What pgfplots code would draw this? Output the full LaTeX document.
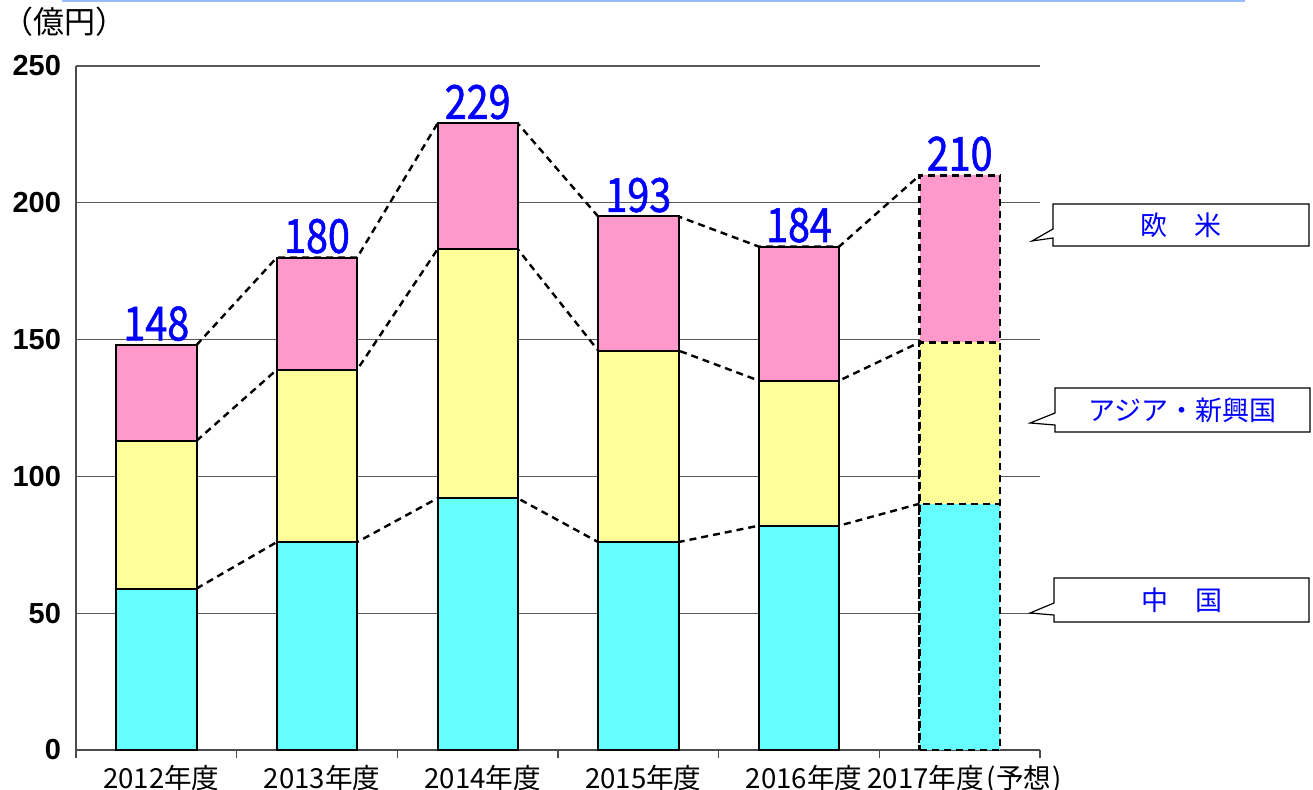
\documentclass[border=0pt]{standalone}
\usepackage{pgfplots}
\pgfplotsset{compat=1.18}
\usepackage{fontspec}
\newfontfamily\jp{Noto Sans CJK JP}
\newfontfamily\jpn[FakeStretch=0.84, FakeBold=1.2]{Noto Sans CJK JP}
\newfontfamily\arialf{Liberation Sans}
\definecolor{cpink}{RGB}{255,153,204}
\definecolor{cyel}{RGB}{255,255,153}
\definecolor{ccyan}{RGB}{102,255,255}
\definecolor{topblue}{RGB}{153,187,255}
\begin{document}
\begin{tikzpicture}
\path[use as bounding box] (0,0) rectangle (656.5pt,394.5pt);
\draw[topblue, line width=1pt] (31pt,394pt) -- (622.5pt,394pt);
\node[anchor=west, inner sep=0pt, font=\jp\fontsize{15.5}{15.5}\selectfont] at (1pt,383.5pt) {（億円）};
\begin{axis}[
 at={(38pt,19.5pt)}, anchor=south west,
 scale only axis, width=482pt, height=342pt,
 xmin=-0.5, xmax=5.5, ymin=0, ymax=250,
 axis x line*=bottom, axis y line*=left,
 axis line style={black!70, line width=0.8pt},
 ytick={0,50,100,150,200,250},
 ymajorgrids, grid style={black!65, line width=0.6pt},
 ytick style={draw=none},
 xtick={-0.5,0.5,1.5,2.5,3.5,4.5,5.5},
 x tick label as interval,
 xticklabels={2012年度,2013年度,2014年度,2015年度,2016年度,{2017年度\hspace{1.5pt}(予想\hspace{0.5pt})}},
 xtick align=inside, major tick length=4pt,
 xtick style={black!70, line width=0.8pt},
 xticklabel style={font=\jp\fontsize{13.8}{13.8}\selectfont, xshift=2.5pt},
 yticklabel style={font=\arialf\bfseries\fontsize{14.5}{14.5}\selectfont, xshift=-4pt},
 /pgf/number format/assume math mode=true,
 ybar, bar shift=0pt, bar width=0.5,
 clip=false,
 every node near coord/.append style={font=\jpn\fontsize{23.5}{23.5}\selectfont, text=blue, inner sep=0pt, yshift=1.5pt},
]
% dashed connectors
\addplot[sharp plot, black, line width=1.2pt, dash pattern=on 3.5pt off 2.5pt] coordinates {(0.25,148)(0.75,180)(1.25,180)(1.75,229)(2.25,229)(2.75,195)(3.25,195)(3.75,184)(4.25,184)(4.75,210)};
\addplot[sharp plot, black, line width=1.2pt, dash pattern=on 3.5pt off 2.5pt] coordinates {(0.25,113)(0.75,139)(1.25,139)(1.75,183)(2.25,183)(2.75,146)(3.25,146)(3.75,135)(4.25,135)(4.75,149)};
\addplot[sharp plot, black, line width=1.2pt, dash pattern=on 3.5pt off 2.5pt] coordinates {(0.25,59)(0.75,76)(1.25,76)(1.75,92)(2.25,92)(2.75,76)(3.25,76)(3.75,82)(4.25,82)(4.75,90)};
% bars 2012-2016 (cumulative heights)
\addplot[fill=cpink, draw=black, line width=1pt, nodes near coords, point meta=explicit symbolic] coordinates {(0,148)[148] (1,180)[180] (2,229)[229] (3,195)[193] (4,184)[184]};
\addplot[fill=cyel, draw=black, line width=1pt] coordinates {(0,113)(1,139)(2,183)(3,146)(4,135)};
\addplot[fill=ccyan, draw=black, line width=1pt] coordinates {(0,59)(1,76)(2,92)(3,76)(4,82)};
% 2017 forecast
\addplot[fill=cpink, draw=black, line width=1.2pt, dash pattern=on 3.5pt off 2.5pt, nodes near coords, point meta=explicit symbolic] coordinates {(5,210)[210]};
\addplot[fill=cyel, draw=black, line width=1.2pt, dash pattern=on 3.5pt off 2.5pt] coordinates {(5,149)};
\addplot[fill=ccyan, draw=black, line width=1.2pt, dash pattern=on 3.5pt off 2.5pt] coordinates {(5,90)};
\end{axis}
% callouts
\begin{scope}[line width=0.6pt]
\draw[fill=white] (526.5pt,292.5pt) -- (654.5pt,292.5pt) -- (654.5pt,271.5pt) -- (526.5pt,271.5pt) -- (526.5pt,275.5pt) -- (516pt,274pt) -- (526.5pt,280pt) -- cycle;
\node[text=blue, font=\jp\fontsize{13.5}{13.5}\selectfont] at (590.5pt,282pt) {欧　米};
\draw[fill=white] (527.5pt,200.5pt) -- (655pt,200.5pt) -- (655pt,178.5pt) -- (527.5pt,178.5pt) -- (527.5pt,182pt) -- (515pt,183pt) -- (527.5pt,188pt) -- cycle;
\node[text=blue, font=\jp\fontsize{13.5}{13.5}\selectfont] at (591.25pt,189.5pt) {アジア・新興国};
\draw[fill=white] (527pt,105.5pt) -- (654.5pt,105.5pt) -- (654.5pt,83.5pt) -- (527pt,83.5pt) -- (527pt,87pt) -- (515pt,88pt) -- (527pt,93pt) -- cycle;
\node[text=blue, font=\jp\fontsize{13.5}{13.5}\selectfont] at (590.75pt,94.5pt) {中　国};
\end{scope}
\end{tikzpicture}
\end{document}
